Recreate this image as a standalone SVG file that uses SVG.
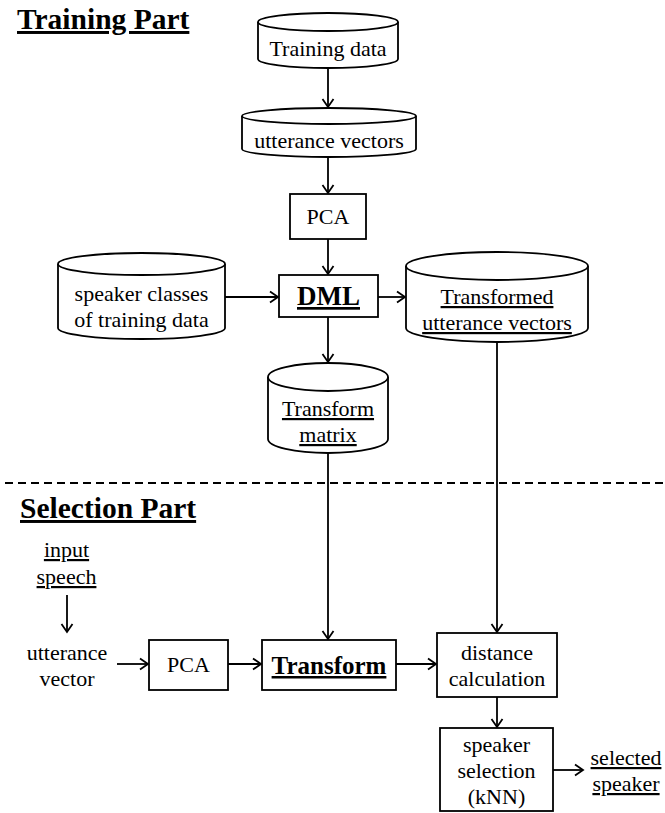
<svg xmlns="http://www.w3.org/2000/svg" width="665" height="813" viewBox="0 0 665 813">
<style>
text{font-size:22px;fill:#000;text-anchor:middle}
.t{font-weight:bold;font-size:29.5px;text-anchor:start;text-decoration:underline}
.b{font-weight:bold;text-decoration:underline}
.u{text-decoration:underline}
.s{fill:#fff;stroke:#000;stroke-width:1.8}
.c{fill:none;stroke:#000;stroke-width:1.8}
</style>
<defs>
<marker id="ah" viewBox="-10 -7 12 14" markerWidth="12" markerHeight="14" refX="0" refY="0" orient="auto" markerUnits="userSpaceOnUse">
<path d="M-8,-5.5 L0,0 L-8,5.5" fill="none" stroke="#000" stroke-width="1.8"/>
</marker>
</defs>
<rect width="665" height="813" fill="#fff"/>
<g font-family="Liberation Serif, serif">
<text class="t" x="17" y="29">Training Part</text>
<text class="t" x="20" y="518">Selection Part</text>
</g>
<line x1="5" y1="483" x2="665" y2="483" stroke="#000" stroke-width="1.8" stroke-dasharray="8 5"/>
<g id="connectors" class="c">
<line x1="328" y1="68" x2="328" y2="107" marker-end="url(#ah)"/>
<line x1="328" y1="157" x2="328" y2="193" marker-end="url(#ah)"/>
<line x1="328" y1="239" x2="328" y2="274" marker-end="url(#ah)"/>
<line x1="225" y1="297" x2="278" y2="297" marker-end="url(#ah)"/>
<line x1="378" y1="297" x2="405" y2="297" marker-end="url(#ah)"/>
<line x1="328" y1="317" x2="328" y2="362" marker-end="url(#ah)"/>
<line x1="328" y1="453" x2="328" y2="639" marker-end="url(#ah)"/>
<line x1="497" y1="342" x2="497" y2="632" marker-end="url(#ah)"/>
<line x1="67" y1="595" x2="67" y2="632" marker-end="url(#ah)"/>
<line x1="117" y1="664" x2="148" y2="664" marker-end="url(#ah)"/>
<line x1="228" y1="664" x2="261" y2="664" marker-end="url(#ah)"/>
<line x1="396" y1="664" x2="436" y2="664" marker-end="url(#ah)"/>
<line x1="497" y1="697" x2="497" y2="727" marker-end="url(#ah)"/>
<line x1="553" y1="770" x2="583" y2="770" marker-end="url(#ah)"/>
</g>
<g font-family="Liberation Serif, serif">
<g id="training-data">
<path class="s" d="M258 22 V59 A70 9 0 0 0 398 59 V22"/>
<ellipse class="s" cx="328" cy="22" rx="70" ry="9"/>
<text x="328" y="56">Training data</text>
</g>
<g id="utterance-vectors">
<path class="s" d="M242 116 V149 A87 8 0 0 0 416 149 V116"/>
<ellipse class="s" cx="329" cy="116" rx="87" ry="8"/>
<text x="329" y="148">utterance vectors</text>
</g>
<g id="pca-train">
<rect class="s" x="290" y="194" width="76" height="45"/>
<text x="328" y="224">PCA</text>
</g>
<g id="speaker-classes">
<path class="s" d="M58 264 V328 A83.5 11 0 0 0 225 328 V264"/>
<ellipse class="s" cx="141.5" cy="264" rx="83.5" ry="11"/>
<text x="141.5" y="301">speaker classes</text>
<text x="141.5" y="327">of training data</text>
</g>
<g id="dml">
<rect class="s" x="279" y="275" width="99" height="42"/>
<text class="b" x="328.5" y="305" style="font-size:27px">DML</text>
</g>
<g id="transformed-vectors">
<path class="s" d="M406 266 V328 A91 14 0 0 0 588 328 V266"/>
<ellipse class="s" cx="497" cy="266" rx="91" ry="14"/>
<text class="u" x="497" y="304">Transformed</text>
<text class="u" x="497" y="330">utterance vectors</text>
</g>
<g id="transform-matrix">
<path class="s" d="M268 377 V439 A60 14 0 0 0 388 439 V377"/>
<ellipse class="s" cx="328" cy="377" rx="60" ry="14"/>
<text class="u" x="328" y="416">Transform</text>
<text class="u" x="328" y="442">matrix</text>
</g>
<g id="input-speech">
<text class="u" x="66.5" y="557">input</text>
<text class="u" x="66.5" y="584">speech</text>
</g>
<g id="utterance-vector">
<text x="67" y="660">utterance</text>
<text x="67" y="686">vector</text>
</g>
<g id="pca-select">
<rect class="s" x="149" y="640" width="79" height="50"/>
<text x="188.5" y="672">PCA</text>
</g>
<g id="transform">
<rect class="s" x="262" y="640" width="134" height="50"/>
<text class="b" x="329" y="674" style="font-size:25px">Transform</text>
</g>
<g id="distance">
<rect class="s" x="437" y="633" width="120" height="64"/>
<text x="497" y="660">distance</text>
<text x="497" y="686">calculation</text>
</g>
<g id="speaker-selection">
<rect class="s" x="440" y="728" width="113" height="83"/>
<text x="496.5" y="752">speaker</text>
<text x="496.5" y="778">selection</text>
<text x="496.5" y="804">(kNN)</text>
</g>
<g id="selected-speaker">
<text class="u" x="626" y="765">selected</text>
<text class="u" x="626" y="791">speaker</text>
</g>
</g>
</svg>
